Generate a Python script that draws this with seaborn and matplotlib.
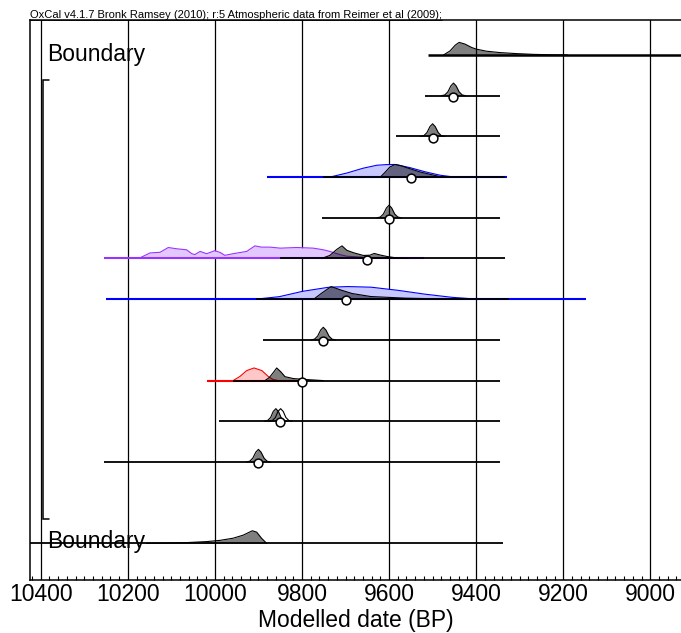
import numpy as np
import pandas as pd
import matplotlib
matplotlib.use("Agg")
import matplotlib.pyplot as plt
import seaborn as sns
from matplotlib.ticker import FixedLocator, MultipleLocator
from matplotlib.lines import Line2D

sns.set_style("white")
plt.rcParams['font.family'] = ['Liberation Sans', 'DejaVu Sans']
plt.rcParams['text.color'] = 'black'
plt.rcParams['axes.labelcolor'] = 'black'
plt.rcParams['xtick.color'] = 'black'
plt.rcParams['ytick.color'] = 'black'

# ---------------- text ----------------
HEADER = "OxCal v4.1.7 Bronk Ramsey (2010); r:5 Atmospheric data from Reimer et al (2009);"
X_LABEL = "Modelled date (BP)"
TICKS = [10400, 10200, 10000, 9800, 9600, 9400, 9200, 9000]
BOUNDARY_LABEL = "Boundary"

# ---------------- data ----------------
rows = [0, 1, 2, 3, 4, 5, 6, 7, 8, 9, 10, 12]
range_start = [9510, 9517, 9584, 9751, 9754, 9850, 9906, 9889, 9958, 9990, 10255, 10440]
range_end = [8900, 9345, 9345, 9333, 9345, 9334, 9324, 9346, 9345, 9345, 9345, 9339]
mean_rows = [1, 2, 3, 4, 5, 6, 7, 8, 9, 10]
mean_dates = [9452, 9500, 9550, 9600, 9650, 9700, 9751, 9800, 9850, 9900]

# posterior distributions (year, relative density)
post0_years = [9475, 9460, 9448, 9439, 9426, 9410, 9399, 9376, 9345, 9307, 9268, 9230, 9190]
post0_dens = [0, 0.32, 0.78, 1.0, 0.87, 0.59, 0.46, 0.30, 0.19, 0.11, 0.05, 0.02, 0]
post1_years = [9480, 9472, 9465, 9458, 9452, 9446, 9439, 9432, 9424]
post1_dens = [0, 0.06, 0.3, 0.78, 1.0, 0.78, 0.3, 0.06, 0]
post2_years = [9528, 9520, 9513, 9506, 9500, 9494, 9487, 9480, 9472]
post2_dens = [0, 0.06, 0.3, 0.78, 1.0, 0.78, 0.3, 0.06, 0]
post3_years = [9620, 9610, 9598, 9586, 9572, 9559, 9529, 9506, 9483, 9470]
post3_dens = [0, 0.35, 0.8, 1.0, 0.9, 0.74, 0.41, 0.22, 0.04, 0]
post4_years = [9628, 9620, 9613, 9606, 9600, 9594, 9587, 9580, 9572]
post4_dens = [0, 0.06, 0.3, 0.78, 1.0, 0.78, 0.3, 0.06, 0]
post5_years = [9755, 9736, 9720, 9708, 9697, 9682, 9659, 9644, 9634, 9621, 9605, 9582, 9559]
post5_dens = [0, 0.24, 0.72, 1.0, 0.65, 0.46, 0.24, 0.26, 0.4, 0.28, 0.16, 0.04, 0]
post6_years = [9773, 9755, 9733, 9711, 9685, 9642, 9562, 9474, 9430]
post6_dens = [0, 0.47, 1.0, 0.73, 0.45, 0.21, 0.08, 0.02, 0]
post7_years = [9779, 9771, 9764, 9757, 9751, 9745, 9738, 9731, 9723]
post7_dens = [0, 0.06, 0.3, 0.78, 1.0, 0.78, 0.3, 0.06, 0]
post8_years = [9885, 9875, 9866, 9858, 9849, 9839, 9820, 9789, 9751]
post8_dens = [0, 0.24, 0.63, 1.0, 0.71, 0.31, 0.16, 0.08, 0]
post9_years = [9886, 9879, 9872, 9866, 9860, 9854, 9848, 9841, 9834]
post9_dens = [0, 0.06, 0.3, 0.78, 1.0, 0.78, 0.3, 0.06, 0]
post10_years = [9928, 9920, 9913, 9906, 9900, 9894, 9887, 9880, 9872]
post10_dens = [0, 0.06, 0.3, 0.78, 1.0, 0.78, 0.3, 0.06, 0]
post12_years = [10157, 10111, 10065, 10019, 9988, 9958, 9935, 9914, 9904, 9893, 9881]
post12_dens = [0, 0.02, 0.06, 0.14, 0.24, 0.41, 0.65, 1.0, 0.89, 0.41, 0]

# likelihoods (unmodelled) (year, relative density)
like3_years = [9736, 9697, 9660, 9628, 9605, 9586, 9552, 9517, 9483, 9450]
like3_dens = [0, 0.32, 0.70, 0.94, 0.99, 1.0, 0.75, 0.42, 0.15, 0]
like5_years = [10195, 10172, 10149, 10126, 10107, 10088, 10065, 10053, 10046, 10034, 10019,
               10000, 9988, 9977, 9958, 9927, 9908, 9893, 9873, 9850, 9812, 9774, 9751,
               9736, 9713, 9697, 9650, 9600, 9550]
like5_dens = [0, 0.05, 0.44, 0.49, 0.87, 0.77, 0.69, 0.38, 0.31, 0.56, 0.38,
              0.62, 0.48, 0.25, 0.38, 0.56, 1.0, 0.9, 0.9, 0.82, 0.87, 0.82, 0.69,
              0.56, 0.31, 0.18, 0.08, 0.02, 0]
like6_years = [9906, 9852, 9799, 9738, 9694, 9641, 9579, 9518, 9456, 9412, 9377]
like6_dens = [0, 0.2, 0.62, 0.95, 1.0, 0.95, 0.7, 0.4, 0.15, 0.04, 0]
like8_years = [9958, 9942, 9927, 9910, 9892, 9877, 9866, 9854]
like8_dens = [0, 0.34, 0.79, 1.0, 0.79, 0.31, 0.08, 0]
like9_years = [9875, 9868, 9861, 9855, 9849, 9843, 9837, 9830, 9823]
like9_dens = [0, 0.06, 0.3, 0.78, 1.0, 0.78, 0.3, 0.06, 0]

like_rows = [3, 5, 6, 8]
like_start = [9880, 10255, 10250, 10019]
like_end = [9329, 9520, 9148, 9800]
like_line = ['#0000ff', '#9933ff', '#0000ff', '#ff0000']
like_fill = ['#c8c8ff', '#e3c8ff', '#c8c8ff', '#ffc8c8']

posteriors = {0: (post0_years, post0_dens), 1: (post1_years, post1_dens),
              2: (post2_years, post2_dens), 3: (post3_years, post3_dens),
              4: (post4_years, post4_dens), 5: (post5_years, post5_dens),
              6: (post6_years, post6_dens), 7: (post7_years, post7_dens),
              8: (post8_years, post8_dens), 9: (post9_years, post9_dens),
              10: (post10_years, post10_dens), 12: (post12_years, post12_dens)}
likelihoods = {3: (like3_years, like3_dens), 5: (like5_years, like5_dens),
               6: (like6_years, like6_dens), 8: (like8_years, like8_dens)}

# ---------------- figure ----------------
W, H = 681, 633
fig = plt.figure(figsize=(W / 100, H / 100), dpi=100)
ax = fig.add_axes([30 / W, 53 / H, 651 / W, 560 / H])
ax.set_xlim(10424.6, 8929.5)
ax.set_ylim(12.9, -0.86)

HSCALE = 0.31  # row units for peak height

# gridlines
for t in TICKS:
    ax.axvline(t, color='black', lw=0.9, zorder=1)

# likelihood ranges + curves
for r, s, e, lc, fc in zip(like_rows, like_start, like_end, like_line, like_fill):
    yrs, d = likelihoods[r]
    ax.fill_between(yrs, r, [r - v * HSCALE for v in d], color=fc, lw=0, zorder=2)
    ax.plot(yrs, [r - v * HSCALE for v in d], color=lc, lw=0.8, zorder=3)
    ax.plot([s, e], [r, r], color=lc, lw=1.5, zorder=3, solid_capstyle='butt')

# black ranges
range_df = pd.DataFrame({'start': range_start, 'end': range_end, 'row': rows})
for _, rw in range_df.iterrows():
    lw = 1.8 if rw['row'] == 0 else 1.3
    ax.plot([rw['start'], rw['end']], [rw['row'], rw['row']], color='black', lw=lw,
            zorder=4, solid_capstyle='butt')

# posteriors
for r, (yrs, d) in posteriors.items():
    top = [r - v * HSCALE for v in d]
    ax.fill_between(yrs, r, top, color='black', alpha=0.5, lw=0, zorder=5)
    ax.plot(yrs, top, color='black', lw=0.8, zorder=6)

# row 9 likelihood outline
yrs, d = like9_years, like9_dens
ax.plot(yrs, [9 - v * HSCALE for v in d], color='black', lw=0.8, zorder=6)

# means
mean_df = pd.DataFrame({'date': mean_dates, 'row': [r + 0.03 for r in mean_rows]})
sns.scatterplot(data=mean_df, x='date', y='row', ax=ax, s=40, color='white',
                edgecolor='black', linewidth=1.1, zorder=8, legend=False)

# bracket
bx, bx2 = 10394.7, 10380
ax.plot([bx2, bx, bx, bx2], [0.61, 0.61, 11.4, 11.4], color='black', lw=1.1, zorder=4,
        solid_joinstyle='miter')

# labels
ax.text(10385.5, 0.15, BOUNDARY_LABEL, fontsize=16.5, ha='left', va='baseline',
        color='black', zorder=9)
ax.text(10385.5, 12.12, BOUNDARY_LABEL, fontsize=16.5, ha='left', va='baseline',
        color='black', zorder=9)

# axes styling
for sp in ['left', 'top', 'bottom']:
    ax.spines[sp].set_visible(True)
    ax.spines[sp].set_color('black')
    ax.spines[sp].set_linewidth(1.1)
ax.spines['right'].set_visible(False)
ax.set_yticks([])
ax.xaxis.set_major_locator(FixedLocator(TICKS))
ax.xaxis.set_minor_locator(MultipleLocator(20))
ax.set_xticklabels([str(t) for t in TICKS], fontsize=16.5, color='black')
ax.tick_params(axis='x', which='major', direction='out', length=0, pad=2, labelcolor='black')
ax.tick_params(axis='x', which='minor', direction='in', length=3, width=0.8, bottom=True,
               color='black')
ax.set_xlabel(X_LABEL, fontsize=16.5, labelpad=2, color='black')
ax.set_ylabel('')

# header with underline
hdr = fig.text(30 / W, 1 - 18.5 / H, HEADER, fontsize=7, ha='left', va='baseline',
               color='black')
fig.canvas.draw()
bb = hdr.get_window_extent()
hdr.set_fontsize(7 * 411 / bb.width)
fig.canvas.draw()
bb = hdr.get_window_extent()
fig.add_artist(Line2D([bb.x0 / W, bb.x1 / W], [1 - 19.8 / H, 1 - 19.8 / H],
                      color='black', lw=0.6, transform=fig.transFigure))

fig.savefig("out.png", dpi=100)
